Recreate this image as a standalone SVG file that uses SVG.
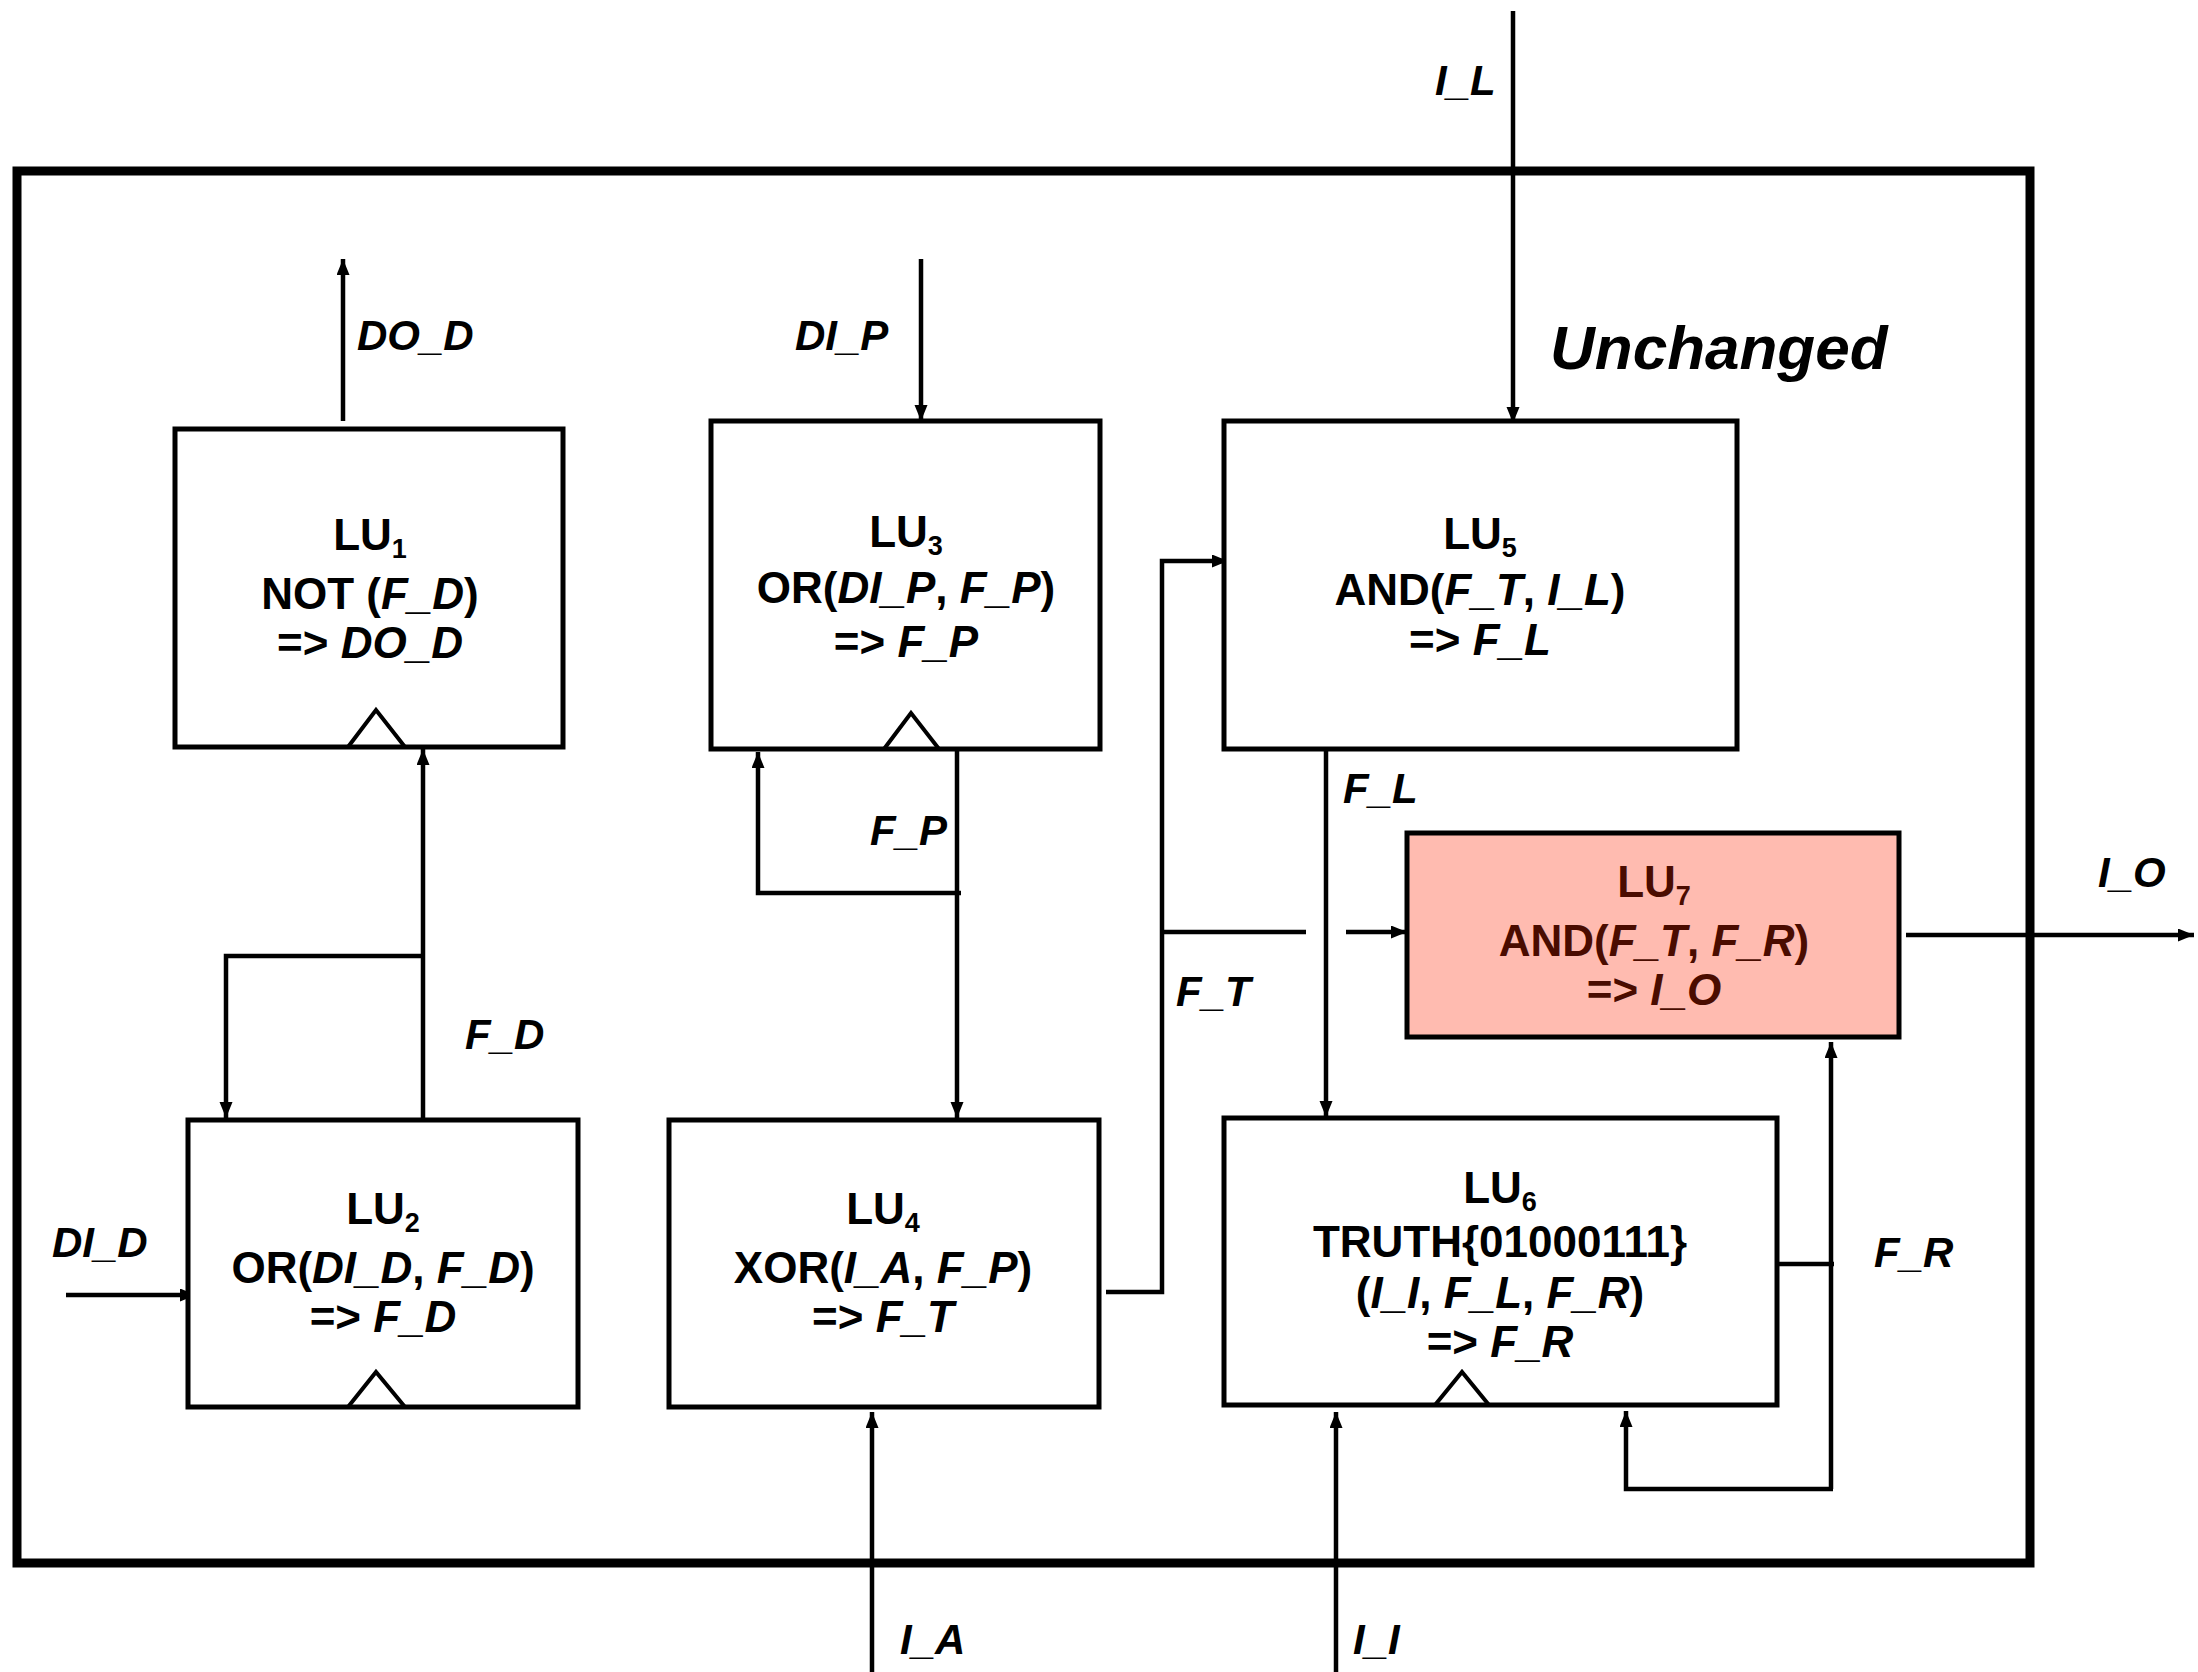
<svg xmlns="http://www.w3.org/2000/svg" width="2198" height="1672" viewBox="0 0 2198 1672">
<style>
.box{fill:#fff;stroke:#000;stroke-width:5}
.hl{fill:#FFBBB0;stroke:#000;stroke-width:5}
.clk{fill:none;stroke:#000;stroke-width:4}
.w{fill:none;stroke:#000;stroke-width:4.5}
.t{font-family:"Liberation Sans",Arial,sans-serif;font-weight:bold;font-size:44px;text-anchor:middle;fill:#000}
.t7{fill:#4a0c00}
.lb{font-family:"Liberation Sans",Arial,sans-serif;font-weight:bold;font-style:italic;font-size:42px;fill:#000}
.big{font-size:62px}
.i{font-style:italic}
.s{font-size:27px}
</style>
<defs>
<marker id="ah" markerUnits="userSpaceOnUse" markerWidth="18" markerHeight="14" refX="16" refY="6.5" orient="auto">
<path d="M0,0 L16,6.5 L0,13 z" fill="#000"/>
</marker>
</defs>
<rect x="17" y="171" width="2013" height="1392" fill="none" stroke="#000" stroke-width="9"/>
<text class="lb big" x="1550" y="369">Unchanged</text>

<g id="connectors">
<line class="w" x1="343" y1="421" x2="343" y2="259" marker-end="url(#ah)"/>
<line class="w" x1="921" y1="259" x2="921" y2="421" marker-end="url(#ah)"/>
<line class="w" x1="1513" y1="11" x2="1513" y2="423" marker-end="url(#ah)"/>
<line class="w" x1="423" y1="1120" x2="423" y2="749" marker-end="url(#ah)"/>
<polyline class="w" points="423,956 226,956 226,1118" marker-end="url(#ah)"/>
<line class="w" x1="66" y1="1295" x2="196" y2="1295" marker-end="url(#ah)"/>
<line class="w" x1="957" y1="750" x2="957" y2="1118" marker-end="url(#ah)"/>
<polyline class="w" points="961,893 758,893 758,752" marker-end="url(#ah)"/>
<polyline class="w" points="1106,1292 1162,1292 1162,561 1228,561" marker-end="url(#ah)"/>
<line class="w" x1="1162" y1="932" x2="1306" y2="932"/>
<line class="w" x1="1346" y1="932" x2="1407" y2="932" marker-end="url(#ah)"/>
<line class="w" x1="1326" y1="750" x2="1326" y2="1117" marker-end="url(#ah)"/>
<line class="w" x1="1777" y1="1264" x2="1834" y2="1264"/>
<line class="w" x1="1831" y1="1489" x2="1831" y2="1042" marker-end="url(#ah)"/>
<polyline class="w" points="1833,1489 1626,1489 1626,1411" marker-end="url(#ah)"/>
<line class="w" x1="1906" y1="935" x2="2194" y2="935" marker-end="url(#ah)"/>
<line class="w" x1="872" y1="1672" x2="872" y2="1412" marker-end="url(#ah)"/>
<line class="w" x1="1336" y1="1672" x2="1336" y2="1412" marker-end="url(#ah)"/>
</g>

<g id="labels">
<text class="lb" x="357" y="350">DO_D</text>
<text class="lb" x="795" y="350">DI_P</text>
<text class="lb" x="1435" y="95">I_L</text>
<text class="lb" x="465" y="1049">F_D</text>
<text class="lb" x="52" y="1257">DI_D</text>
<text class="lb" x="870" y="845">F_P</text>
<text class="lb" x="1176" y="1006">F_T</text>
<text class="lb" x="1343" y="803">F_L</text>
<text class="lb" x="1874" y="1267">F_R</text>
<text class="lb" x="2098" y="887">I_O</text>
<text class="lb" x="900" y="1654">I_A</text>
<text class="lb" x="1353" y="1654">I_I</text>
</g>

<g id="LU1">
<rect class="box" x="175" y="429" width="388" height="318"/>
<polyline class="clk" points="348,747 376,710 405,747"/>
<text class="t" x="370" y="550">LU<tspan class="s" dy="8">1</tspan></text>
<text class="t" x="370" y="609">NOT (<tspan class="i">F_D</tspan>)</text>
<text class="t" x="370" y="658">=&gt; <tspan class="i">DO_D</tspan></text>
</g>

<g id="LU3">
<rect class="box" x="711" y="421" width="389" height="328"/>
<polyline class="clk" points="884,749 911,713 939,749"/>
<text class="t" x="906" y="547">LU<tspan class="s" dy="8">3</tspan></text>
<text class="t" x="906" y="603">OR(<tspan class="i">DI_P</tspan>, <tspan class="i">F_P</tspan>)</text>
<text class="t" x="906" y="657">=&gt; <tspan class="i">F_P</tspan></text>
</g>

<g id="LU5">
<rect class="box" x="1224" y="421" width="513" height="328"/>
<text class="t" x="1480" y="549">LU<tspan class="s" dy="8">5</tspan></text>
<text class="t" x="1480" y="605">AND(<tspan class="i">F_T</tspan>, <tspan class="i">I_L</tspan>)</text>
<text class="t" x="1480" y="655">=&gt; <tspan class="i">F_L</tspan></text>
</g>

<g id="LU7">
<rect class="hl" x="1407" y="833" width="492" height="204"/>
<text class="t t7" x="1654" y="897">LU<tspan class="s" dy="8">7</tspan></text>
<text class="t t7" x="1654" y="956">AND(<tspan class="i">F_T</tspan>, <tspan class="i">F_R</tspan>)</text>
<text class="t t7" x="1654" y="1005">=&gt; <tspan class="i">I_O</tspan></text>
</g>

<g id="LU2">
<rect class="box" x="188" y="1120" width="390" height="287"/>
<polyline class="clk" points="348,1407 376,1372 405,1407"/>
<text class="t" x="383" y="1224">LU<tspan class="s" dy="8">2</tspan></text>
<text class="t" x="383" y="1283">OR(<tspan class="i">DI_D</tspan>, <tspan class="i">F_D</tspan>)</text>
<text class="t" x="383" y="1332">=&gt; <tspan class="i">F_D</tspan></text>
</g>

<g id="LU4">
<rect class="box" x="669" y="1120" width="430" height="287"/>
<text class="t" x="883" y="1224">LU<tspan class="s" dy="8">4</tspan></text>
<text class="t" x="883" y="1283">XOR(<tspan class="i">I_A</tspan>, <tspan class="i">F_P</tspan>)</text>
<text class="t" x="883" y="1332">=&gt; <tspan class="i">F_T</tspan></text>
</g>

<g id="LU6">
<rect class="box" x="1224" y="1118" width="553" height="287"/>
<polyline class="clk" points="1435,1405 1462,1372 1489,1405"/>
<text class="t" x="1500" y="1203">LU<tspan class="s" dy="8">6</tspan></text>
<text class="t" x="1500" y="1257">TRUTH{01000111}</text>
<text class="t" x="1500" y="1308">(<tspan class="i">I_I</tspan>, <tspan class="i">F_L</tspan>, <tspan class="i">F_R</tspan>)</text>
<text class="t" x="1500" y="1357">=&gt; <tspan class="i">F_R</tspan></text>
</g>
</svg>
